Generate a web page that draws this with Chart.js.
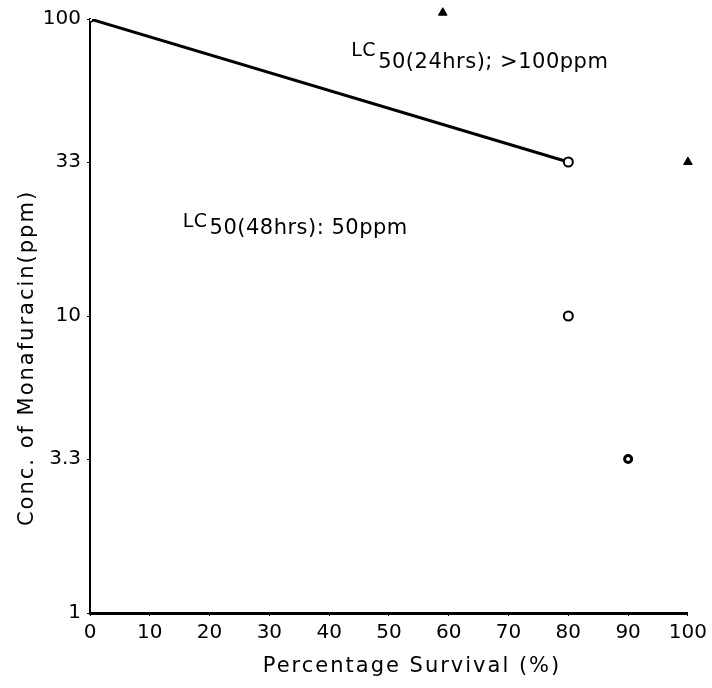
<!DOCTYPE html>
<html>
<head>
<meta charset="utf-8">
<script src="https://cdn.jsdelivr.net/npm/chart.js@4.4.1/dist/chart.umd.min.js"></script>
<style>
  html, body { margin: 0; padding: 0; background: #fff; }
  #wrap { width: 712px; height: 688px; }
</style>
</head>
<body>
<div id="wrap"><canvas id="chart" width="712" height="688"></canvas></div>
<script>
// ===== Data =====
const yTickValues = [1, 3.3, 10, 33, 100];
const yTickLabels = ["1", "3.3", "10", "33", "100"];

// 48 hrs: line from 0 % to 80 % survival, plus open circles
const lineX = [0, 80];
const lineY = [100, 33];
const circleX = [80, 80, 90];
const circleY = [33, 10, 3.3];

// 24 hrs: filled triangles
const triangleX = [59, 100];
const triangleY = [105, 33];

const toPoints = (xs, ys) => xs.map((x, i) => ({ x, y: ys[i] }));

const FONT = "'DejaVu Sans', 'Liberation Sans', sans-serif";

// ===== Axis titles + LC50 notes =====
const textPlugin = {
  id: "texts",
  afterDraw(chart) {
    const { ctx, scales } = chart;
    const x = scales.x, y = scales.y;
    ctx.save();
    ctx.fillStyle = "#000";
    ctx.textBaseline = "alphabetic";

    // LC50 labels with subscript
    function lc(px, py, rest, drop) {
      ctx.letterSpacing = "0.5px";
      ctx.textAlign = "left";
      ctx.font = "19px " + FONT;
      ctx.fillText("LC", px, py);
      const w = ctx.measureText("LC").width;
      ctx.font = "21px " + FONT;
      ctx.fillText(rest, px + w + 2, py + drop);
    }
    lc(x.getPixelForValue(43.7), y.getPixelForValue(75), "50(24hrs); >100ppm", 12);
    lc(x.getPixelForValue(15.5), y.getPixelForValue(20), "50(48hrs): 50ppm", 7);

    // axis titles
    ctx.letterSpacing = "2px";
    ctx.font = "21px " + FONT;
    ctx.textAlign = "center";
    ctx.textBaseline = "middle";
    ctx.fillText("Percentage Survival (%)", 412, 667);

    ctx.translate(28, 358);
    ctx.rotate(-Math.PI / 2);
    ctx.fillText("Conc. of Monafuracin(ppm)", 0, 0);
    ctx.restore();
  },
};

new Chart(document.getElementById("chart"), {
  type: "scatter",
  data: {
    datasets: [
      {
        label: "48hrs line",
        data: toPoints(lineX, lineY),
        showLine: true,
        borderColor: "#000",
        borderWidth: 3,
        pointRadius: [3, 0],
        pointBorderWidth: 1.5,
        pointBorderColor: "#000",
        pointBackgroundColor: "#fff",
        order: 3,
      },
      {
        label: "48hrs",
        data: toPoints(circleX, circleY),
        showLine: false,
        pointRadius: [4.5, 4.5, 3.5],
        pointBorderWidth: [2, 2, 3],
        pointBorderColor: "#000",
        pointBackgroundColor: "#fff",
        order: 1,
      },
      {
        label: "24hrs",
        data: toPoints(triangleX, triangleY),
        showLine: false,
        pointStyle: "triangle",
        pointRadius: 5,
        pointHoverRadius: 12,
        pointBorderWidth: 1,
        pointBorderColor: "#000",
        pointBackgroundColor: "#000",
        clip: false,
        order: 2,
      },
    ],
  },
  options: {
    responsive: false,
    animation: false,
    events: [],
    layout: { padding: { left: 0, right: 20, top: 19, bottom: 0 } },
    plugins: { legend: { display: false }, tooltip: { enabled: false } },
    scales: {
      x: {
        type: "linear",
        min: 0,
        max: 100,
        ticks: {
          stepSize: 10,
          color: "#000",
          padding: 5,
          font: { family: FONT, size: 20 },
        },
        grid: { drawOnChartArea: false, drawTicks: true, tickLength: 3, color: "#000" },
        border: { display: true, color: "#000", width: 3 },
        afterFit: (s) => { s.height = 75; },
      },
      y: {
        type: "logarithmic",
        min: 1,
        max: 100,
        afterBuildTicks: (s) => { s.ticks = yTickValues.map((v) => ({ value: v })); },
        ticks: {
          color: "#000",
          padding: 6,
          font: { family: FONT, size: 20 },
          callback: (v) => yTickLabels[yTickValues.indexOf(v)] ?? "",
        },
        grid: { drawOnChartArea: false, drawTicks: true, tickLength: 3, color: "#000" },
        border: { display: true, color: "#000", width: 2 },
        afterFit: (s) => { s.width = 90; },
      },
    },
  },
  plugins: [textPlugin],
});
</script>
</body>
</html>
